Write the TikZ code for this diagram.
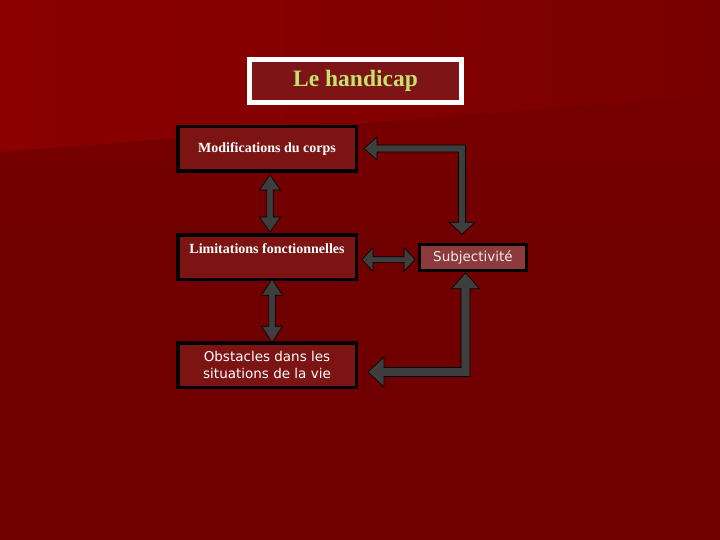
\documentclass[tikz,border=0pt]{standalone}
\usepackage{fontspec}
\setmainfont{Liberation Serif}
\newfontfamily\vsans{DejaVu Sans}
\usetikzlibrary{calc}
\definecolor{bgdark}{HTML}{700000}
\definecolor{bgtop}{HTML}{790000}
\definecolor{bglight}{HTML}{8C0000}
\definecolor{bgright}{HTML}{790000}
\definecolor{boxfill}{HTML}{7C1414}
\definecolor{titlefill}{HTML}{7E1416}
\definecolor{subjfill}{HTML}{8C3A3C}
\definecolor{titlegreen}{HTML}{C4E26E}
\definecolor{arrowgray}{HTML}{3E3E3E}
\definecolor{paletext}{HTML}{F4E8E8}
\newcommand\fatVV[5]{\draw[fatarrow] (#1) -- ($(#1)+(#3,#5)$) -- ($(#1)+(#4,#5)$) -- ($(#2)+(#4,-#5)$) -- ($(#2)+(#3,-#5)$) -- (#2) -- ($(#2)+(-#3,-#5)$) -- ($(#2)+(-#4,-#5)$) -- ($(#1)+(-#4,#5)$) -- ($(#1)+(-#3,#5)$) -- cycle;}
\newcommand\fatHH[5]{\draw[fatarrow] (#1) -- ($(#1)+(#5,-#3)$) -- ($(#1)+(#5,-#4)$) -- ($(#2)+(-#5,-#4)$) -- ($(#2)+(-#5,-#3)$) -- (#2) -- ($(#2)+(-#5,#3)$) -- ($(#2)+(-#5,#4)$) -- ($(#1)+(#5,#4)$) -- ($(#1)+(#5,#3)$) -- cycle;}
\begin{document}
\begin{tikzpicture}[x=1pt,y=-1pt,
  box/.style={draw=black, line width=3.5pt, fill=boxfill, text=white, inner sep=0pt, outer sep=0pt,
    minimum width=178.5pt, minimum height=44.5pt, align=center},
  serifbox/.style={box, font=\fontsize{14}{17}\selectfont\bfseries},
  sansbox/.style={box, font=\vsans\fontsize{13.5}{17}\selectfont},
  fatarrow/.style={draw=black, line width=0.6pt, fill=arrowgray, line join=miter}]
\useasboundingbox (0,0) rectangle (720,540);
% background
\shade[top color=bgtop, bottom color=bgdark, middle color=bgdark] (0,0) rectangle (720,540);
\shade[left color=bglight, right color=bgright] (0,0) -- (720,0) -- (720,95) -- (0,152) -- cycle;
% nodes
\node[draw=white, line width=5pt, fill=titlefill, text=titlegreen, inner sep=0pt, outer sep=0pt,
  minimum width=212pt, minimum height=43pt, font=\fontsize{23.5}{28}\selectfont\bfseries]
  (title) at (355.5,81) {Le handicap};
\node[serifbox] (mod) at (267,149) {Modifications du corps};
\node[serifbox] (lim) at (267,257) {Limitations fonctionnelles\\\hbox{}};
\node[sansbox] (obs) at (267,365) {Obstacles dans les\\situations de la vie};
\node[draw=black, line width=3pt, fill=subjfill, text=paletext, inner sep=0pt, outer sep=0pt,
  minimum width=107pt, minimum height=26.5pt, font=\vsans\fontsize{13.5}{17}\selectfont]
  (subj) at (473,257.5) {Subjectivité};
% arrow end points
\coordinate (a1t) at ($(mod.south)+(3,3.75)$);
\coordinate (a1b) at ($(lim.north)+(3,-2.75)$);
\coordinate (a2t) at ($(lim.south)+(5,0)$);
\coordinate (a2b) at ($(obs.north)+(5,-0.5)$);
\coordinate (a3l) at ($(lim.east)+(5.75,2.5)$);
\coordinate (a3r) at ($(subj.west)+(-4.5,2)$);
\coordinate (e1l) at ($(mod.east)+(7.75,-0.5)$);
\coordinate (e1d) at ($(subj.north)+(-11,-10)$);
\coordinate (e1c) at (e1d |- e1l);
\coordinate (e2u) at ($(subj.south)+(-7.5,2)$);
\coordinate (e2l) at ($(obs.east)+(11.75,7)$);
\coordinate (e2c) at (e2u |- e2l);
% straight double arrows
\fatVV{a1t}{a1b}{10.5}{3.2}{15}
\fatVV{a2t}{a2b}{10.5}{3.2}{16}
\fatHH{a3l}{a3r}{12}{2.8}{11}
% top elbow: Modifications <-> Subjectivite
\draw[fatarrow] (e1l) -- ($(e1l)+(13,-11.5)$) -- ($(e1l)+(13,-3.5)$) -- ($(e1c)+(3.5,-3.5)$)
  -- ($(e1d)+(3.5,-12)$) -- ($(e1d)+(13,-12)$) -- (e1d) -- ($(e1d)+(-13,-12)$) -- ($(e1d)+(-3.5,-12)$)
  -- ($(e1c)+(-3.5,3.5)$) -- ($(e1l)+(13,3.5)$) -- ($(e1l)+(13,11.5)$) -- cycle;
% bottom elbow: Subjectivite <-> Obstacles
\draw[fatarrow] (e2u) -- ($(e2u)+(14,16)$) -- ($(e2u)+(4.5,16)$) -- ($(e2c)+(4.5,4.5)$)
  -- ($(e2l)+(16,4.5)$) -- ($(e2l)+(16,15)$) -- (e2l) -- ($(e2l)+(16,-15)$) -- ($(e2l)+(16,-4.5)$)
  -- ($(e2c)+(-4.5,-4.5)$) -- ($(e2u)+(-4.5,16)$) -- ($(e2u)+(-14,16)$) -- cycle;
\end{tikzpicture}
\end{document}
